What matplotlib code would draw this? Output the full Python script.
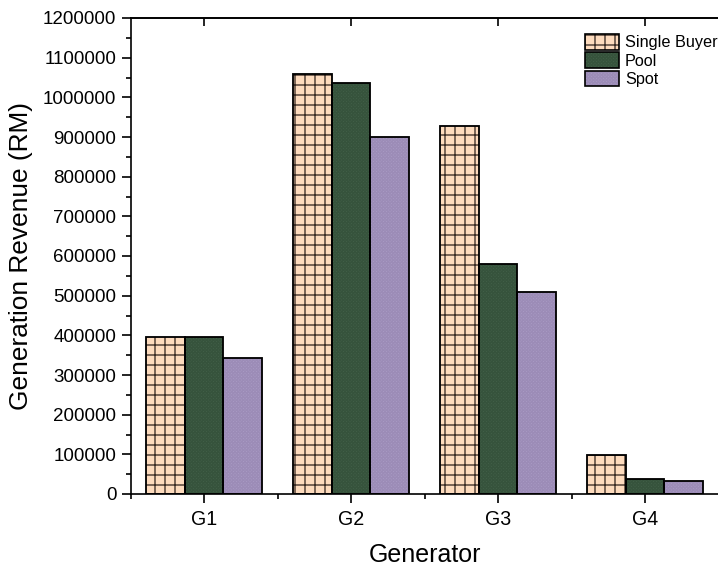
import matplotlib
matplotlib.use("Agg")
import matplotlib.pyplot as plt
import numpy as np
from matplotlib.patches import Patch
from matplotlib.ticker import MultipleLocator, FixedLocator, FuncFormatter
from matplotlib.legend_handler import HandlerTuple

plt.rcParams['font.family'] = ['Liberation Sans', 'DejaVu Sans']
plt.rcParams['hatch.linewidth'] = 1.6

generators = ["G1", "G2", "G3", "G4"]
single_buyer = [396000, 1058000, 928000, 98000]
pool = [396000, 1037000, 579000, 39000]
spot = [342000, 900000, 508000, 34000]
series_names = ["Single Buyer", "Pool", "Spot"]

DPI = 60
fig = plt.figure(figsize=(718 / DPI, 570 / DPI), dpi=DPI)
ax = fig.add_axes([130.5 / 718, 76 / 570, 588 / 718, 476 / 570])

x = np.arange(1, len(generators) + 1)
w = 0.265
styles = [
    dict(fill="#FDDBBD", hatchc="#3b2d25", hatch="+"),
    dict(fill="#44634A", hatchc="#36533c", hatch="xxxxxx"),
    dict(fill="#AC9DC7", hatchc="#9c8cb7", hatch="xxxxxx"),
]
handles = []
for i, (vals, st) in enumerate(zip([single_buyer, pool, spot], styles)):
    pos = x + (i - 1) * w
    ax.bar(pos, vals, w, color=st["fill"], edgecolor=st["hatchc"],
           hatch=st["hatch"], linewidth=0, zorder=2)
    ax.bar(pos, vals, w, fill=False, edgecolor="black", linewidth=2.2, zorder=3)
    h1 = Patch(facecolor=st["fill"], edgecolor=st["hatchc"], hatch=st["hatch"], linewidth=0)
    h2 = Patch(fill=False, edgecolor="black", linewidth=2.0)
    handles.append((h1, h2))

ax.set_xlim(0.5, 4.5)
ax.set_ylim(0, 1200000)
ax.yaxis.set_major_locator(MultipleLocator(100000))
ax.yaxis.set_minor_locator(MultipleLocator(50000))
ax.yaxis.set_major_formatter(FuncFormatter(lambda v, p: f"{int(round(v))}"))
ax.set_xticks(x)
ax.set_xticklabels(generators)
ax.xaxis.set_minor_locator(FixedLocator(np.arange(0.5, 5, 1.0)))

for s in ["left", "bottom", "top"]:
    ax.spines[s].set_linewidth(2.0)
ax.spines["right"].set_visible(False)

ax.tick_params(axis="y", which="major", direction="out", length=11, width=2.0,
               labelsize=22.5, pad=6)
ax.tick_params(axis="y", which="minor", direction="out", length=6, width=2.0)
ax.tick_params(axis="x", which="major", direction="out", length=11, width=2.0,
               labelsize=23.5, pad=8)
ax.tick_params(axis="x", which="minor", direction="out", length=6, width=2.0)

sec = ax.secondary_xaxis("top")
sec.set_xticks(x)
sec.set_xticklabels([])
sec.tick_params(direction="in", length=10, width=2.0)
sec.spines["top"].set_linewidth(2.0)

ax.set_xlabel("Generator", fontsize=30, labelpad=17)
ax.set_ylabel("Generation Revenue (RM)", fontsize=31.5, labelpad=12)

leg = ax.legend(handles, series_names, loc="upper left",
                bbox_to_anchor=((585 - 130.5) / 588, (494 - 34) / 476),
                frameon=False, fontsize=19.5, handlelength=2.1, handleheight=1.1,
                labelspacing=0.12, handletextpad=0.35, borderpad=0, borderaxespad=0,
                handler_map={tuple: HandlerTuple(ndivide=1, pad=0)})

fig.savefig("out.png", dpi=DPI)
